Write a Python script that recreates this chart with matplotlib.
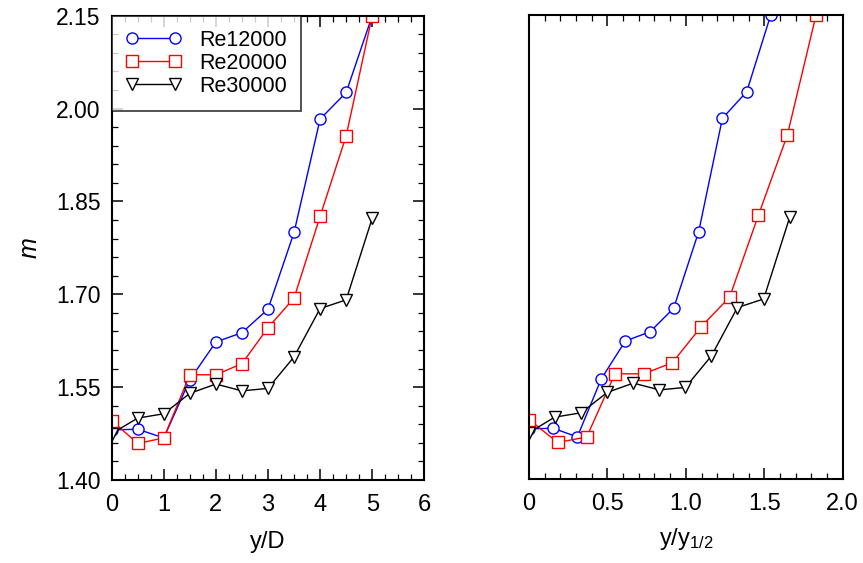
import numpy as np
import matplotlib
matplotlib.use("AGG")
import matplotlib.pyplot as plt
from matplotlib.ticker import MultipleLocator, FixedLocator, FuncFormatter

plt.rcParams['font.family'] = ['Liberation Sans', 'DejaVu Sans']
plt.rcParams['mathtext.fontset'] = 'custom'
plt.rcParams['mathtext.rm'] = 'Liberation Sans'
plt.rcParams['mathtext.it'] = 'Liberation Sans:italic'

# y/D positions (same for all Re)
yD = [0, 0.5, 1, 1.5, 2, 2.5, 3, 3.5, 4, 4.5, 5]

# y/y_1/2 positions per Re
yh_12000 = [0.0, 0.154, 0.308, 0.461, 0.614, 0.772, 0.922, 1.082, 1.233, 1.388, 1.541]
yh_20000 = [0.0, 0.183, 0.368, 0.548, 0.731, 0.914, 1.097, 1.279, 1.462, 1.647, 1.830]
yh_30000 = [0.0, 0.164, 0.332, 0.499, 0.665, 0.831, 0.997, 1.163, 1.328, 1.496, 1.662]

m_12000 = [1.481, 1.482, 1.468, 1.562, 1.623, 1.638, 1.676, 1.800, 1.983, 2.026, 2.150]
m_20000 = [1.496, 1.459, 1.468, 1.570, 1.570, 1.588, 1.646, 1.694, 1.826, 1.956, 2.150]
m_30000 = [1.475, 1.500, 1.507, 1.540, 1.555, 1.544, 1.548, 1.599, 1.677, 1.691, 1.823]

labels = ["Re12000", "Re20000", "Re30000"]
styles = [dict(color="#0000ff", marker="o", ms=8),
          dict(color="#ff0000", marker="s", ms=8),
          dict(color="black", marker="v", ms=8.5)]

fig = plt.figure(figsize=(8.63, 5.63), dpi=100)
ax1 = fig.add_axes([0.1294, 0.1474, 0.3623, 0.8247])
ax2 = fig.add_axes([0.6130, 0.1492, 0.3635, 0.8242])

def draw(ax, xs):
	for x, m, lab, st in zip(xs, [m_12000, m_20000, m_30000], labels, styles):
		ax.plot(x, m, color=st["color"], marker=st["marker"], ms=st["ms"],
			mfc="white", mec=st["color"], mew=1.0, lw=1.0, label=lab)
	ax.set_ylim(1.40, 2.15)
	for sp in ax.spines.values():
		sp.set_linewidth(1.5)
	ax.tick_params(which="major", length=8, width=1.1)
	ax.tick_params(which="minor", length=4.5, width=0.9)

draw(ax1, [yD, yD, yD])
draw(ax2, [yh_12000, yh_20000, yh_30000])

ax1.set_xlim(0, 6)
ax1.xaxis.set_major_locator(MultipleLocator(1))
ax1.xaxis.set_minor_locator(MultipleLocator(0.25))
ax1.yaxis.set_major_locator(FixedLocator(np.arange(1.40, 2.151, 0.15)))
ax1.yaxis.set_minor_locator(FixedLocator(np.arange(1.40, 2.151, 0.03)))
ax1.yaxis.set_major_formatter(FuncFormatter(lambda v, p: "%.2f" % v))
ax1.tick_params(which="both", direction="in", top=True, right=True)
ax1.tick_params(axis="y", labelsize=16.5, pad=8)
ax1.tick_params(axis="x", labelsize=17, pad=10)
ax1.set_xlabel("y/D", fontsize=17, labelpad=11)
ax1.set_ylabel("$m$", fontsize=18, labelpad=10)

ax2.set_xlim(0, 2.0)
ax2.xaxis.set_major_locator(MultipleLocator(0.5))
ax2.xaxis.set_minor_locator(MultipleLocator(0.1))
ax2.xaxis.set_major_formatter(FuncFormatter(lambda v, p: "0" if abs(v) < 1e-9 else "%.1f" % v))
ax2.tick_params(which="both", direction="in", top=True)
ax2.tick_params(axis="x", labelsize=17, pad=10)
ax2.tick_params(axis="y", which="both", left=False, labelleft=False)
ax2.set_xlabel("y/y$_{1/2}$", fontsize=17, labelpad=8)

leg = ax1.legend(loc="upper left", numpoints=2, handlelength=2.6, fontsize=15.5,
	frameon=True, fancybox=False, borderaxespad=0, borderpad=0.65,
	labelspacing=0.1, handletextpad=0.8)
leg.get_frame().set_edgecolor("black")
leg.get_frame().set_linewidth(1.2)

plt.savefig("out.png", dpi=100)
